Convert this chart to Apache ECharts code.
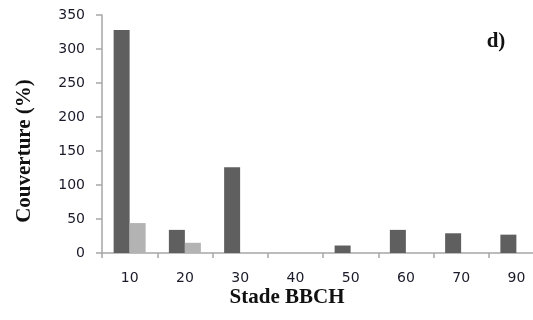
<!DOCTYPE html>
<html>
<head>
<meta charset="utf-8">
<script src="https://cdn.jsdelivr.net/npm/echarts@6/dist/echarts.min.js"></script>
<style>html,body{margin:0;padding:0;background:#fff}#c{width:533px;height:320px}</style>
</head>
<body>
<div id="c"></div>
<script>
const categories = ['10', '20', '30', '40', '50', '60', '70', '90'];
const darkValues = [328, 34, 126, 0, 11, 34, 29, 27];
const lightValues = [44, 15, 0, 0, 0, 0, 0, 0];
const yTicks = { min: 0, max: 350, interval: 50 };
const yTitle = 'Couverture (%)';
const xTitle = 'Stade BBCH';
const panelLabel = 'd)';

const chart = echarts.init(document.getElementById('c'), null, { renderer: 'canvas' });
const axisColor = '#a6a6a6';
const labelStyle = { color: '#1a1a2a', fontFamily: 'DejaVu Sans', fontSize: 14 };
const titleFont = 'bold 21px "Liberation Serif"';
chart.setOption({
  animation: false,
  backgroundColor: '#fff',
  grid: { left: 102, top: 15, right: -11, bottom: 67, containLabel: false, outerBoundsMode: 'none' },
  xAxis: {
    type: 'category',
    data: categories,
    boundaryGap: true,
    axisLine: { lineStyle: { color: axisColor, width: 1.5 } },
    axisTick: { show: true, length: 5, inside: false, lineStyle: { color: axisColor, width: 1.5 } },
    axisLabel: Object.assign({ margin: 18 }, labelStyle),
    splitLine: { show: false }
  },
  yAxis: {
    type: 'value',
    min: yTicks.min, max: yTicks.max, interval: yTicks.interval,
    axisLine: { show: true, lineStyle: { color: axisColor, width: 1.5 } },
    axisTick: { show: true, length: 6, lineStyle: { color: axisColor, width: 1.5 } },
    axisLabel: Object.assign({ margin: 17 }, labelStyle),
    splitLine: { show: false }
  },
  series: [
    { type: 'bar', data: darkValues, barWidth: 16, barGap: '0%', itemStyle: { color: '#5f5f5f' } },
    { type: 'bar', data: lightValues, barWidth: 16, barGap: '0%', itemStyle: { color: '#b3b3b3' } }
  ],
  graphic: [
    { type: 'text', x: 25, y: 151, rotation: Math.PI / 2,
      style: { text: yTitle, font: titleFont, fill: '#111', align: 'center', verticalAlign: 'middle' } },
    { type: 'text', x: 287, y: 298,
      style: { text: xTitle, font: titleFont, fill: '#111', align: 'center', verticalAlign: 'middle' } },
    { type: 'text', x: 496, y: 42,
      style: { text: panelLabel, font: titleFont, fill: '#111', align: 'center', verticalAlign: 'middle' } }
  ]
});
</script>
</body>
</html>
